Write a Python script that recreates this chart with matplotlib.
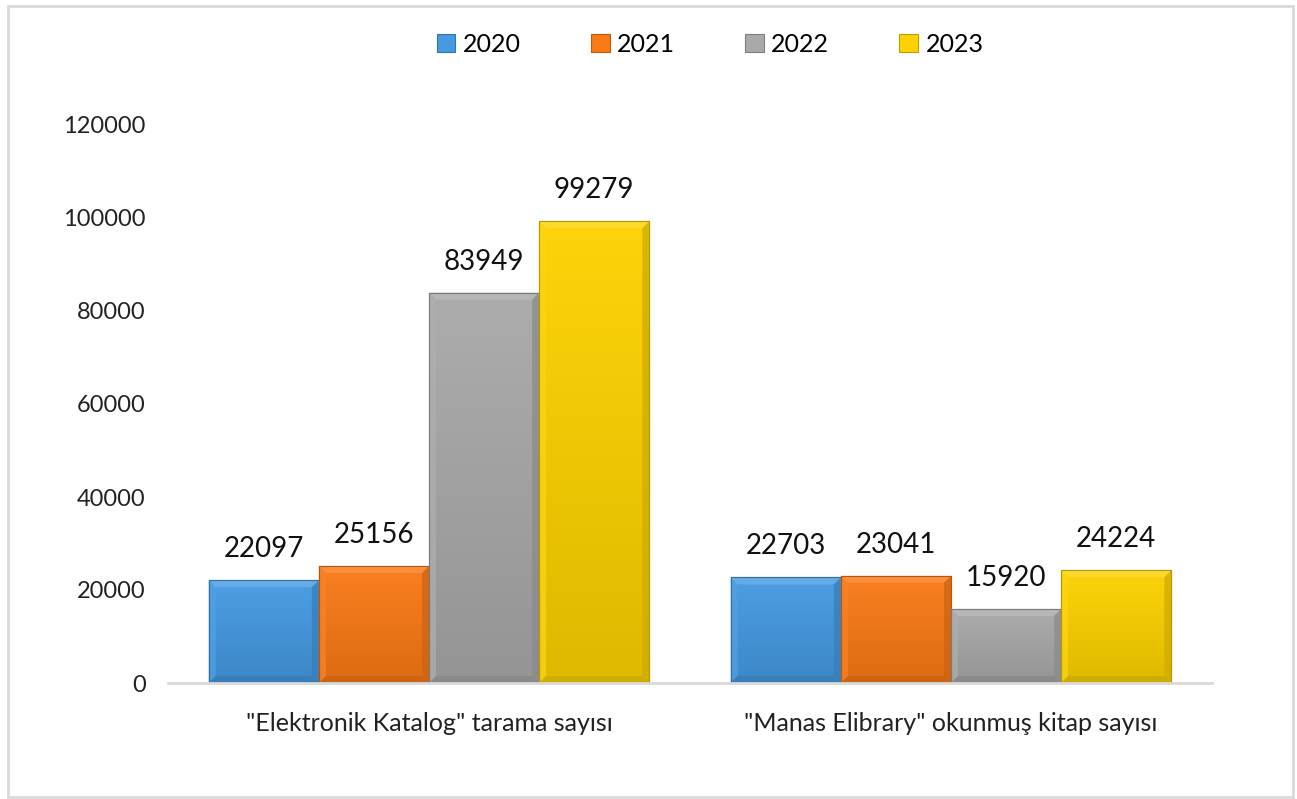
import matplotlib.pyplot as plt
import matplotlib.colors as mcolors
import numpy as np
from matplotlib.patches import Polygon, Rectangle

categories = ['"Elektronik Katalog" tarama sayısı', '"Manas Elibrary" okunmuş kitap sayısı']
years = ['2020', '2021', '2022', '2023']
values_2020 = [22097, 22703]
values_2021 = [25156, 23041]
values_2022 = [83949, 15920]
values_2023 = [99279, 24224]
series = [values_2020, values_2021, values_2022, values_2023]
colors = ['#459AE2', '#FA7A16', '#A9A9A9', '#FDD200']

plt.rcParams['font.family'] = ['Lato', 'DejaVu Sans']

fig = plt.figure(figsize=(12.97, 7.99), dpi=100)
ax = fig.add_axes([168 / 1297, 116 / 799, 1044 / 1297, 558 / 799])

x = np.arange(len(categories))
width = 0.211
bevel = 7  # pixels


def shade(c, f):
    r, g, b = mcolors.to_rgb(c)
    if f > 1:
        return (r + (1 - r) * (f - 1), g + (1 - g) * (f - 1), b + (1 - b) * (f - 1))
    return (r * f, g * f, b * f)


bars = []
for i, vals in enumerate(series):
    pos = x + (i - 1.5) * width
    b = ax.bar(pos, vals, width, color=colors[i], edgecolor=shade(colors[i], 0.75),
               linewidth=0.8, label=years[i], zorder=2)
    bars.append(b)
    for p, v in zip(pos, vals):
        ax.annotate(str(v), (p, v), xytext=(0, 13), textcoords='offset points',
                    ha='center', va='bottom', fontsize=20, color='#111111')

ax.set_xlim(-0.5, 1.5)
ax.set_ylim(0, 120000)
ax.set_yticks(np.arange(0, 120001, 20000))
ax.set_xticks(x)
ax.set_xticklabels(categories, fontsize=18, color='#222222')
ax.tick_params(axis='y', labelsize=17, colors='#222222', length=0, pad=16)
ax.tick_params(axis='x', length=0, pad=21)
for s in ['top', 'right', 'left']:
    ax.spines[s].set_visible(False)
ax.spines['bottom'].set_color('#D9D9D9')
ax.spines['bottom'].set_linewidth(2)

# gradient + bevel overlay, bevel sized in pixels
fig.canvas.draw()
inv = ax.transData.inverted()
grad = np.linspace(0, 1, 100).reshape(-1, 1)
for i, b in enumerate(bars):
    c = colors[i]
    cmap = mcolors.LinearSegmentedColormap.from_list('g', [shade(c, 1.04), shade(c, 0.88)])
    for rect in b:
        x0, y0 = rect.get_x(), rect.get_y()
        x1, y1 = x0 + rect.get_width(), y0 + rect.get_height()
        im = ax.imshow(grad, extent=(x0, x1, y0, y1), cmap=cmap, aspect='auto', zorder=2.1)
        im.set_clip_path(rect)
        (dx0, dy0) = ax.transData.transform((x0, y0))
        (dx1, dy1) = ax.transData.transform((x1, y1))
        outer = [(dx0, dy0), (dx1, dy0), (dx1, dy1), (dx0, dy1)]
        inner = [(dx0 + bevel, dy0 + bevel), (dx1 - bevel, dy0 + bevel),
                 (dx1 - bevel, dy1 - bevel), (dx0 + bevel, dy1 - bevel)]
        faces = [
            ([outer[3], outer[2], inner[2], inner[3]], shade(c, 1.22)),  # top
            ([outer[0], outer[3], inner[3], inner[0]], shade(c, 1.06)),  # left
            ([outer[1], outer[2], inner[2], inner[1]], shade(c, 0.82)),  # right
            ([outer[0], outer[1], inner[1], inner[0]], shade(c, 0.8)),  # bottom
        ]
        for pts, fc in faces:
            dpts = inv.transform(pts)
            ax.add_patch(Polygon(dpts, closed=True, facecolor=fc, edgecolor='none',
                                 alpha=0.75, zorder=2.2))
        ax.add_patch(Rectangle((x0, y0), x1 - x0, y1 - y0, fill=False,
                               edgecolor=shade(c, 0.72), linewidth=0.8, zorder=2.3))

ax.set_xlim(-0.5, 1.5)
ax.set_ylim(0, 120000)

fig.legend(handles=bars, labels=years, loc='center', bbox_to_anchor=(710 / 1297, 1 - 44 / 799),
           ncol=4, frameon=False, fontsize=18, handlelength=0.75, handleheight=0.75,
           handletextpad=0.3, columnspacing=2.8)

# outer chart border
fig.add_artist(Rectangle((8 / 1297, 2 / 799), 1285 / 1297, 791 / 799, transform=fig.transFigure,
                         fill=False, edgecolor='#D9D9D9', linewidth=2))

fig.savefig('out.png', dpi=100)
